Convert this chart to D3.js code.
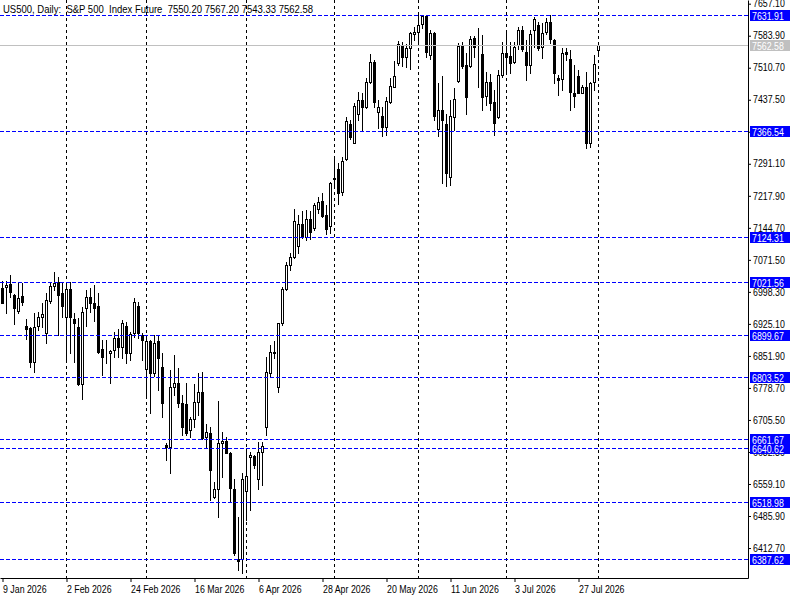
<!DOCTYPE html>
<html><head><meta charset="utf-8">
<script src="https://cdn.jsdelivr.net/npm/d3@7"></script>
<style>
html,body{margin:0;padding:0;background:#fff;}
svg{display:block;}
text{font-family:"Liberation Sans",Arial,sans-serif;}
</style></head>
<body><svg id="c" width="800" height="600"></svg>
<script>
const opens = [7006.4,7008.7,7016.3,6990.3,6955.3,6988.8,6921.0,6916.4,6838.7,6920.3,
6940.2,6905.0,6978.1,7011.7,7021.5,6995.0,6941.5,7004.2,6935.6,6918.7,
6787.0,6960.7,6985.9,6972.2,6966.0,6867.0,6855.6,6857.9,6865.4,6892.1,
6872.9,6920.3,6859.2,6903.6,6966.0,6899.7,6821.3,6886.7,6813.5,6886.7,
6827.2,6648.2,6644.4,6781.5,6789.3,6743.5,6741.9,6682.5,6706.9,6747.2,
6770.1,6665.8,6676.3,6530.1,6547.0,6652.1,6657.4,6630.6,6547.0,6386.9,
6386.9,6542.0,6620.1,6623.8,6569.5,6632.1,6690.1,6813.5,6860.1,6780.1,
6926.4,7004.2,7059.0,7077.3,7103.1,7153.4,7124.4,7164.2,7143.6,7187.0,
7206.0,7174.0,7149.5,7258.6,7279.2,7227.3,7301.3,7382.0,7339.3,7404.9,
7436.9,7420.2,7477.4,7524.5,7410.2,7400.3,7375.9,7433.0,7467.3,7520.8,
7562.6,7534.5,7555.1,7587.8,7593.0,7610.6,7628.9,7539.8,7590.7,7369.9,
7414.0,7382.0,7261.6,7397.4,7481.0,7562.6,7516.9,7514.6,7578.0,7543.7,
7542.1,7446.0,7478.7,7433.0,7398.7,7494.0,7543.7,7537.5,7524.5,7562.6,
7596.9,7547.3,7516.9,7596.9,7608.4,7557.4,7593.0,7615.9,7574.1,7486.5,
7484.2,7545.9,7529.9,7452.2,7491.8,7453.6,7467.3,7339.3,7478.7,7550.20];
const highs = [7023.8,7023.8,7036.8,6994.2,7017.9,7017.9,6935.6,6918.7,6949.3,6953.0,
6972.2,6995.0,7021.5,7044.4,7033.0,7021.5,7017.9,7021.5,6949.3,6937.9,
6964.4,7002.6,7006.4,7014.0,6995.0,6888.3,6888.3,6866.0,6907.2,6912.7,
6934.0,6930.1,6907.2,6983.6,6975.8,6903.6,6892.1,6888.3,6899.7,6899.7,
6857.9,6652.1,6819.7,6854.0,6823.6,6762.5,6789.3,6712.9,6787.7,6812.1,
6815.8,6696.2,6690.1,6563.0,6748.8,6678.6,6666.4,6632.9,6569.8,6484.3,
6583.5,6639.7,6632.9,6625.4,6655.0,6655.0,6850.1,6876.8,6886.7,6927.8,
7008.7,7067.2,7087.9,7187.0,7174.0,7183.8,7185.4,7183.8,7200.8,7215.9,
7223.6,7196.9,7250.1,7303.6,7292.2,7305.9,7398.7,7391.2,7429.4,7455.9,
7452.2,7486.5,7542.1,7528.3,7436.9,7421.6,7443.1,7486.5,7526.7,7572.5,
7568.8,7564.9,7593.0,7604.5,7631.2,7631.9,7631.2,7596.9,7592.0,7475.1,
7491.8,7404.9,7436.9,7463.6,7566.5,7570.2,7543.7,7583.2,7583.2,7600.8,
7585.5,7501.6,7496.3,7459.8,7505.5,7570.2,7596.9,7570.2,7570.2,7603.1,
7606.1,7574.1,7596.9,7627.3,7615.9,7613.6,7623.7,7631.2,7575.7,7494.0,
7555.1,7555.1,7551.2,7516.9,7505.5,7471.2,7501.6,7478.7,7539.8,7567.20];
const lows = [6972.2,6950.7,6987.3,6924.2,6949.3,6968.3,6889.9,6827.2,6815.8,6911.1,
6918.7,6880.7,6972.2,7002.6,6899.7,6941.5,6842.5,6857.9,6838.7,6785.4,
6752.7,6920.3,6953.0,6932.4,6859.2,6808.3,6835.0,6790.7,6850.1,6848.7,
6846.4,6835.0,6842.5,6895.8,6892.1,6842.5,6762.5,6720.7,6805.9,6774.0,
6712.9,6613.9,6583.5,6762.5,6735.8,6671.1,6671.1,6667.2,6690.1,6716.8,
6661.9,6642.9,6522.5,6526.4,6484.3,6574.4,6629.3,6518.6,6396.8,6362.5,
6354.9,6475.7,6499.6,6594.9,6548.2,6555.8,6671.1,6804.4,6846.4,6768.7,
6922.6,7002.6,7048.3,7075.0,7086.5,7120.7,7116.9,7118.5,7139.7,7177.9,
7170.1,7130.6,7132.2,7238.7,7199.2,7219.7,7299.7,7347.1,7337.9,7391.2,
7366.7,7417.9,7475.1,7420.2,7372.9,7354.6,7356.9,7430.7,7465.9,7516.9,
7514.6,7513.0,7507.1,7574.1,7572.5,7600.8,7535.9,7529.9,7391.2,7354.6,
7247.8,7240.3,7242.6,7368.3,7478.7,7509.4,7404.9,7513.0,7534.5,7467.3,
7414.0,7425.5,7414.0,7356.9,7395.1,7490.2,7501.6,7497.9,7520.8,7552.8,
7549.6,7482.6,7497.9,7558.7,7551.2,7532.2,7587.8,7566.5,7475.1,7448.3,
7459.8,7528.3,7414.0,7421.6,7452.2,7452.2,7326.5,7330.2,7459.8,7543.33];
const closes = [6973.5,7014.0,6998.7,6960.7,6983.6,6975.8,6914.1,6838.8,6918.7,6941.5,
6947.7,6979.7,7011.7,7019.2,6991.1,6966.0,7004.2,6941.5,6927.8,6787.0,
6951.6,6985.9,6972.2,6962.1,6861.5,6850.1,6856.3,6863.1,6892.1,6872.9,
6926.4,6859.2,6902.0,6975.8,6904.9,6888.3,6886.7,6813.5,6882.1,6846.4,
6743.5,6644.4,6781.5,6789.3,6743.5,6688.7,6675.0,6706.9,6747.2,6770.1,
6663.5,6678.6,6591.1,6547.0,6652.1,6657.4,6630.6,6549.3,6400.7,6382.4,
6569.8,6577.3,6625.4,6602.5,6632.1,6645.8,6815.8,6861.5,6857.9,6927.8,
7004.2,7059.0,7078.7,7161.0,7153.4,7124.4,7164.2,7135.8,7196.9,7204.4,
7172.4,7141.3,7246.5,7255.6,7225.0,7297.5,7389.6,7353.0,7423.2,7436.9,
7421.6,7477.4,7523.1,7433.0,7420.2,7374.5,7434.6,7468.9,7491.8,7564.9,
7534.5,7555.1,7589.4,7593.0,7608.4,7628.9,7547.3,7590.7,7400.3,7414.0,
7391.2,7269.3,7400.3,7438.5,7560.3,7514.6,7443.1,7575.7,7557.4,7544.3,
7444.4,7478.7,7430.7,7383.6,7494.0,7543.7,7534.5,7522.2,7557.4,7596.9,
7552.8,7516.9,7587.8,7621.4,7555.1,7590.7,7615.9,7575.7,7497.9,7482.6,
7543.7,7541.4,7455.9,7446.0,7453.6,7467.3,7337.9,7476.4,7519.2,7562.58];

const dateLabels = ["9 Jan 2026","2 Feb 2026","24 Feb 2026","16 Mar 2026","6 Apr 2026","28 Apr 2026","20 May 2026","11 Jun 2026","3 Jul 2026","27 Jul 2026"];
const labelBars = [0,16,32,48,64,80,96,112,128,144];
const separatorBars = [16,36,61,83,104,126,149];
const priceTicks = [7657.10,7583.90,7510.70,7437.50,7364.30,7291.10,7217.90,7144.70,7071.50,6998.30,6925.10,6851.90,6778.70,6705.50,6632.30,6559.10,6485.90,6412.70];
const levelPrices = [7631.91,7366.54,7124.31,7021.56,6899.67,6803.52,6661.67,6640.62,6518.98,6387.62];
const bidPrice = 7562.58;
const titleText = "US500, Daily:  S\u0026P 500  Index Future  7550.20 7567.20 7543.33 7562.58";

const svg = d3.select("#c");
const W = 748, H = 578;
const x = d3.scaleLinear().domain([-0.625, 186.375]).range([0, W]);
const y = d3.scaleLinear().domain([6344.2, 7665.5]).range([H, 0]);
const py = v => Math.round(y(v));
const SQ = 0.88;
function squeeze(sel, k) {
  sel.each(function(){ const w = this.getComputedTextLength(); d3.select(this).attr("textLength", w*k).attr("lengthAdjust","spacingAndGlyphs"); });
}

const bars = d3.range(opens.length).map(i => ({i, o:opens[i], h:highs[i], l:lows[i], c:closes[i]}));

// period separators
svg.append("g").selectAll("line").data(separatorBars).join("line")
  .attr("x1", d => Math.floor(x(d)) + 0.5).attr("x2", d => Math.floor(x(d)) + 0.5)
  .attr("y1", 0).attr("y2", H)
  .attr("stroke", "#000").attr("stroke-width", 1).attr("stroke-dasharray", "3,3");

// candles
const g = svg.append("g");
g.selectAll("line.wick").data(bars).join("line").attr("class","wick")
  .attr("x1", d => Math.floor(x(d.i)) + 0.5).attr("x2", d => Math.floor(x(d.i)) + 0.5)
  .attr("y1", d => py(d.h)).attr("y2", d => py(d.l) + 1)
  .attr("stroke", "#000").attr("stroke-width", 1);
g.selectAll("rect.body").data(bars).join("rect").attr("class","body")
  .attr("x", d => Math.floor(x(d.i)) - 0.5)
  .attr("y", d => Math.min(py(d.o), py(d.c)) + 0.5)
  .attr("width", 2)
  .attr("height", d => Math.max(0, Math.abs(py(d.o) - py(d.c))))
  .attr("fill", d => d.c >= d.o ? "#fff" : "#000")
  .attr("stroke", "#000").attr("stroke-width", 1);

// horizontal levels
svg.append("g").selectAll("line").data(levelPrices).join("line")
  .attr("x1", 0).attr("x2", W).attr("y1", d => py(d) + 0.5).attr("y2", d => py(d) + 0.5)
  .attr("stroke", "#0000ff").attr("stroke-width", 1).attr("stroke-dasharray", "4,2");
// bid line
svg.append("line").attr("x1", 0).attr("x2", W).attr("y1", py(bidPrice) + 0.5).attr("y2", py(bidPrice) + 0.5)
  .attr("stroke", "#c0c0c0").attr("stroke-width", 1);

// right axis
const ya = svg.append("g").attr("transform", `translate(${W},0)`)
  .call(d3.axisRight(y).tickValues(priceTicks).tickFormat(d3.format(".2f")).tickSize(3).tickSizeOuter(0).tickPadding(2));
ya.select(".domain").attr("stroke", "#000");
ya.selectAll("text").attr("font-size", 10).attr("fill", "#000").attr("font-family", "Liberation Sans");
ya.selectAll("text").call(squeeze, SQ);

// bottom axis
const xa = svg.append("g").attr("transform", `translate(0,${H})`)
  .call(d3.axisBottom(x).tickValues(labelBars).tickFormat((d,i) => dateLabels[i]).tickSize(4).tickSizeOuter(0).tickPadding(4));
xa.select(".domain").attr("stroke", "#000");
xa.selectAll("text").attr("font-size", 10).attr("text-anchor", "start").attr("fill", "#000").attr("font-family", "Liberation Sans");
xa.selectAll("text").call(squeeze, SQ);

// level labels
const lab = svg.append("g");
const allLabels = levelPrices.map(p => ({p, fill:"#0000ff"})).concat([{p:bidPrice, fill:"#c0c0c0"}]);
lab.selectAll("rect").data(allLabels).join("rect")
  .attr("x", 750).attr("y", d => py(d.p) - 5).attr("width", 40).attr("height", 11)
  .attr("fill", d => d.fill);
lab.selectAll("line").data(allLabels).join("line")
  .attr("x1", 745).attr("x2", 748).attr("y1", d => py(d.p) + 0.5).attr("y2", d => py(d.p) + 0.5)
  .attr("stroke", d => d.fill);
lab.selectAll("text").data(allLabels).join("text")
  .attr("x", 752).attr("y", d => py(d.p) + 4.5)
  .attr("font-size", 10).attr("fill", "#fff")
  .text(d => d3.format(".2f")(d.p))
  .call(squeeze, SQ);

// title
const t = svg.append("text").attr("x", 3).attr("y", 13).attr("font-size", 11)
  .style("white-space", "pre").attr("fill", "#000").text(titleText);
t.attr("textLength", 310).attr("lengthAdjust", "spacingAndGlyphs");
</script></body></html>
